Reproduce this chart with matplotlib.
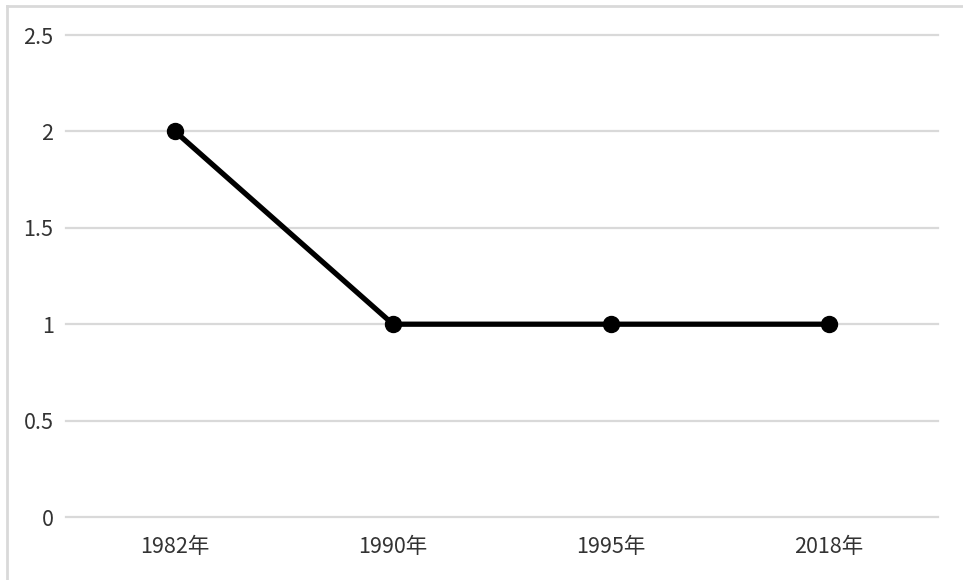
import matplotlib.pyplot as plt
from matplotlib.lines import Line2D

plt.rcParams['font.family'] = ['Noto Sans CJK SC', 'DejaVu Sans']

categories = ['1982年', '1990年', '1995年', '2018年']
values = [2, 1, 1, 1]
y_ticks = [0, 0.5, 1, 1.5, 2, 2.5]
y_labels = ['0', '0.5', '1', '1.5', '2', '2.5']

W, H = 963, 580
fig = plt.figure(figsize=(W / 100, H / 100), dpi=100)
ax = fig.add_axes([66 / W, 1 - 517 / H, (938 - 66) / W, (517 - 35) / H])

x = list(range(len(categories)))
ax.plot(x, values, color='black', lw=3.8, marker='o', ms=11.5,
        solid_capstyle='round', zorder=3, clip_on=False)

ax.set_xlim(-0.5, len(categories) - 0.5)
ax.set_ylim(0, 2.5)
ax.set_yticks(y_ticks)
ax.set_yticklabels(y_labels)
ax.set_xticks(x)
ax.set_xticklabels(categories)

for yv in y_ticks:
    ax.axhline(yv, color='#d9d9d9', lw=1.6, zorder=1, clip_on=False)

for s in ax.spines.values():
    s.set_visible(False)
ax.tick_params(length=0, labelsize=15.5, colors='#333333')
ax.tick_params(axis='y', pad=9)
ax.tick_params(axis='x', pad=14)

# outer frame: top and left edges only
fig.add_artist(Line2D([7 / W, 1], [1 - 6 / H, 1 - 6 / H], color='#d9d9d9', lw=2,
                      transform=fig.transFigure))
fig.add_artist(Line2D([7 / W, 7 / W], [0, 1 - 6 / H], color='#d9d9d9', lw=2,
                      transform=fig.transFigure))

fig.savefig('out.png', dpi=100)
